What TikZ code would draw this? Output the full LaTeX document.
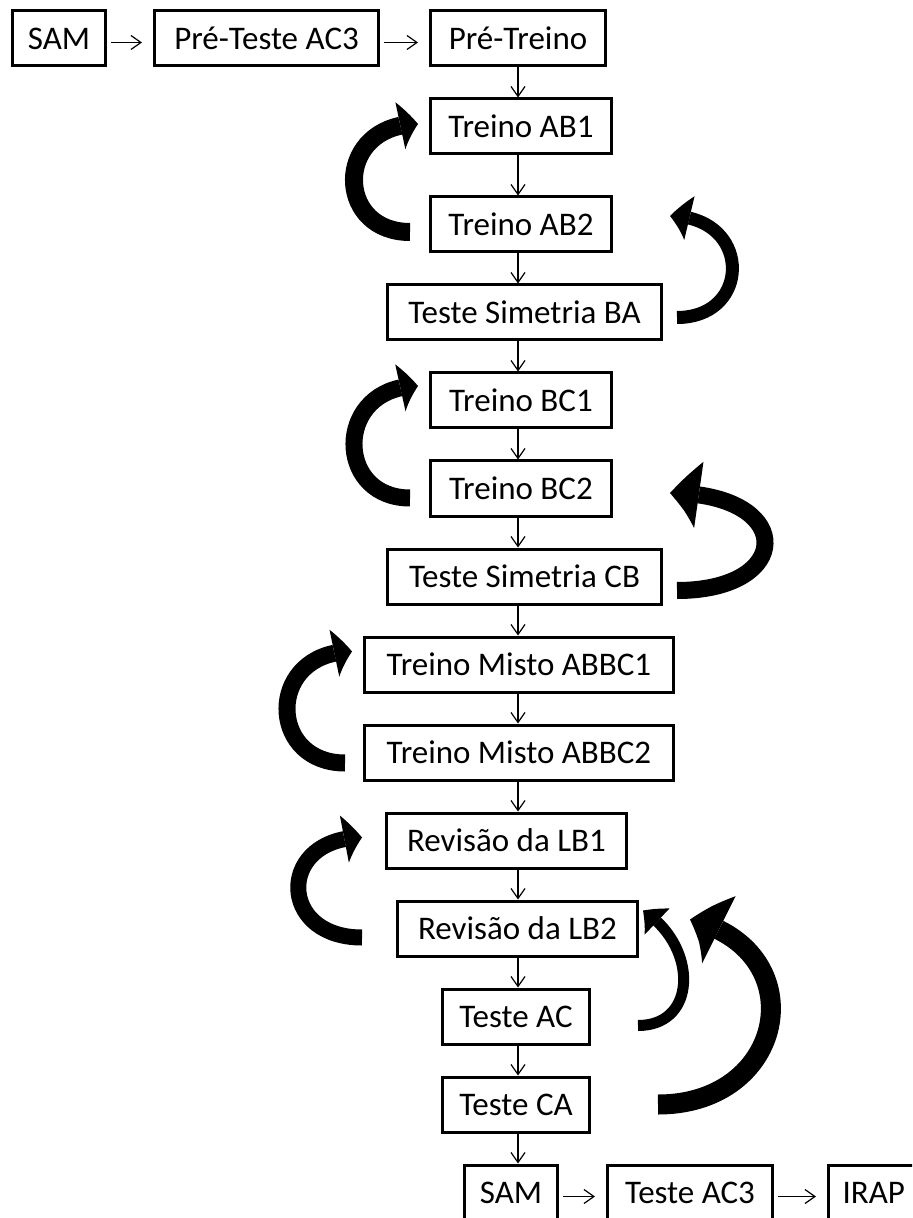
\documentclass[tikz,border=0pt]{standalone}
\usepackage{fontspec}
\setmainfont{Carlito}
\usetikzlibrary{arrows.meta, bending, positioning}

\begin{document}
\begin{tikzpicture}[
x=0.5pt, y=-0.5pt,
every node/.append style = {inner sep=1.5pt},
node distance = 15pt and 23pt,
 caixa/.style = {draw, line width=1.5pt, minimum height=27.5pt,
                 minimum width=#1, font=\fontsize{16.5}{20}\selectfont},
 caixa/.default = 90.5pt,
  seta/.style = {line width=0.6pt, -{Straight Barb[length=5pt,width=7pt]}},
 setah/.style = {seta, shorten <=2pt, shorten >=5.5pt},
 volta/.style n args = {3}{line width=#1,
                 -{Triangle[length=#2,width=#3,bend,line width=0pt]}}
                    ]
\useasboundingbox (0,0) rectangle (912,1218);
\clip (0,0) rectangle (912,1218);
%nodes
\node (pre)   [caixa=87.5pt] at (518,38.5)                  {Pré-Treino};
\node (pta)   [caixa=112pt, left=24.5pt of pre]             {Pré-Teste AC3};
\node (sam)   [caixa=46.5pt, left=23pt of pta]              {SAM};
%
\node (ab1)   [caixa, below=of pre, xshift=1.5pt]           {Treino AB1};
\node (ab2)   [caixa, below=20pt of ab1]                    {Treino AB2};
\node (tsba)  [caixa=137pt, below=of ab2, xshift=1.75pt]    {Teste Simetria BA};
\node (bc1)   [caixa, below=of tsba, xshift=-1.75pt]        {Treino BC1};
\node (bc2)   [caixa, below=of bc1]                         {Treino BC2};
\node (tscb)  [caixa=137pt, below=of bc2, xshift=1.75pt]    {Teste Simetria CB};
\node (tma1)  [caixa=154.5pt, below=of tscb, xshift=-2.75pt] {Treino Misto ABBC1};
\node (tma2)  [caixa=154.5pt, below=of tma1]                {Treino Misto ABBC2};
\node (lb1)   [caixa=120pt, below=of tma2, xshift=-6.25pt]  {Revisão da LB1};
\node (lb2)   [caixa=120pt, below=of lb1, xshift=5.5pt]     {Revisão da LB2};
\node (tac)   [caixa=73.5pt, below=of lb2, xshift=-0.75pt]  {Teste AC};
\node (tca)   [caixa=73.5pt, below=of tac]                  {Teste CA};
%
\node (sam2)  [caixa=46.5pt, below=of tca, xshift=-2.5pt]   {SAM};
\node (tac3)  [caixa=82.5pt, right=23.5pt of sam2]          {Teste AC3};
\node (irap)  [caixa=10pt, text width=44pt, align=left, inner xsep=7pt,
               right=26.5pt of tac3]                        {IRAP};
% edges
\foreach \a/\b in {pre/ab1, ab1/ab2, ab2/tsba, tsba/bc1, bc1/bc2, bc2/tscb,
                   tscb/tma1, tma1/tma2, tma2/lb1, lb1/lb2, lb2/tac, tac/tca, tca/sam2}
  \draw[seta] (\a.south -| pre.south) -- (\b.north -| pre.south);
\draw[setah]  ([yshift=-2pt]sam.east)  -- ([yshift=-2pt]pta.west);
\draw[setah]  ([yshift=-2pt]pta.east)  -- ([yshift=-2pt]pre.west);
\draw[setah]  ([yshift=-2pt]sam2.east) -- ([yshift=-2pt]tac3.west);
\draw[setah]  ([yshift=-2pt]tac3.east) -- ([yshift=-2pt]irap.west);
% loops, left side
\draw[volta={9pt}{9pt}{24pt}]   ([shift={(-19,7.5)}]ab2.west)
      .. controls +(-76,0) and +(-84,0) .. ([shift={(-11,-2.5)}]ab1.west);
\draw[volta={8.5pt}{9pt}{24pt}] ([shift={(-19,9.5)}]bc2.west)
      .. controls +(-76,0) and +(-84,0) .. ([shift={(-11,-14.5)}]bc1.west);
\draw[volta={8.5pt}{9pt}{24pt}] ([shift={(-18,10.5)}]tma2.west)
      .. controls +(-78,0) and +(-86,0) .. ([shift={(-11,-13)}]tma1.west);
\draw[volta={8pt}{9pt}{24pt}]   ([shift={(-34,9)}]lb2.west)
      .. controls +(-85,0) and +(-85,0) .. ([shift={(-23,-3)}]lb1.west);
% loops, right side
\draw[volta={6.5pt}{10pt}{22.5pt}] ([shift={(14,5)}]tsba.east)
      .. controls +(75,0) and +(82,0) .. ([shift={(57,-8.5)}]ab2.east);
\draw[volta={8.5pt}{15pt}{33.5pt}] ([shift={(14,14)}]tscb.east)
      .. controls +(118,0) and +(126,0) .. ([shift={(57,4.5)}]bc2.east);
\draw[volta={5.5pt}{9pt}{18pt}]    ([shift={(47,9)}]tac.east)
      .. controls +(60,0) and +(55,35) .. ([shift={(4,-18)}]lb2.east);
\draw[volta={10pt}{16pt}{37.5pt}]  ([shift={(67,0)}]tca.east)
      .. controls +(130,0) and +(125,30) .. ([shift={(51,-9)}]lb2.east);
\end{tikzpicture}
\end{document}
